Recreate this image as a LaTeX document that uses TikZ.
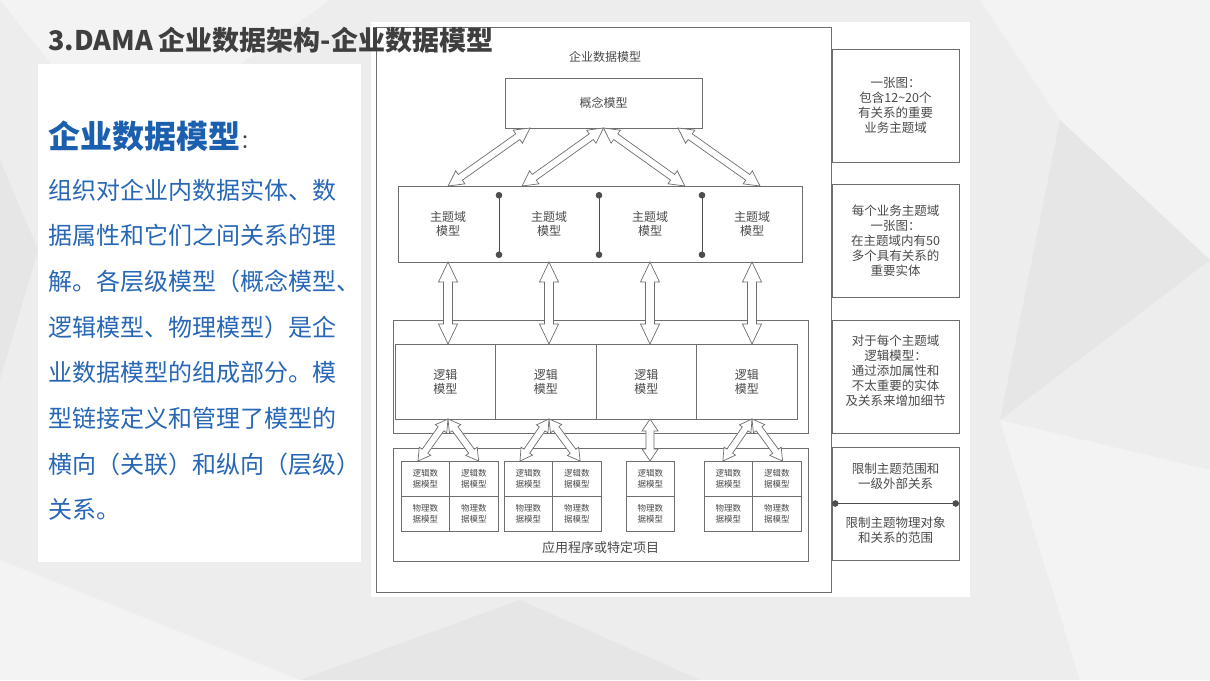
\documentclass[tikz,border=0pt]{standalone}
\usepackage{fontspec}
\setmainfont{Noto Sans CJK SC}
\usepackage{xcolor}
\usetikzlibrary{arrows.meta,positioning,calc}
\definecolor{slideBg}{HTML}{EDEDED}
\definecolor{polyLight}{HTML}{F3F3F3}
\definecolor{polyDark}{HTML}{E6E6E6}
\definecolor{titleGray}{HTML}{3F3F3F}
\definecolor{headBlue}{HTML}{1B5FAF}
\definecolor{bodyBlue}{HTML}{2767B6}
\definecolor{lineGray}{HTML}{6E6E6E}
\definecolor{inkGray}{HTML}{4A4A4A}
\tikzset{
  frame/.style={draw=lineGray, line width=0.8pt, fill=white, inner sep=0pt, outer sep=0pt},
  lbl/.style={text=inkGray, align=center, inner sep=0pt, font=\fontsize{12}{14}\selectfont},
  cellbox/.style={frame, lbl, minimum width=48.5, minimum height=35, anchor=north west, font=\fontsize{8.5}{11}\selectfont},
  notebox/.style={frame, lbl, minimum width=127, minimum height=113, anchor=north west, font=\fontsize{12.5}{15}\selectfont},
  dotline/.style={draw=lineGray!70!black, line width=0.8pt, {Circle[length=6.5pt]}-{Circle[length=6.5pt]}},
  dblarrow/.style={draw=lineGray, line width=0.7pt, fill=white, line join=miter},
  bodytxt/.style={text=bodyBlue, anchor=base west, inner sep=0pt, font=\fontsize{24}{24}\selectfont},
}
% hollow double-headed arrow: from, to, head length, head half width, shaft half width
\newcommand{\dblarr}[5]{%
  \draw[dblarrow] (#1)
    -- ($(#1)!#3!(#2)!#4!90:(#2)$) -- ($(#1)!#3!(#2)!#5!90:(#2)$)
    -- ($(#2)!#3!(#1)!#5!-90:(#1)$) -- ($(#2)!#3!(#1)!#4!-90:(#1)$)
    -- (#2)
    -- ($(#2)!#3!(#1)!#4!90:(#1)$) -- ($(#2)!#3!(#1)!#5!90:(#1)$)
    -- ($(#1)!#3!(#2)!#5!-90:(#2)$) -- ($(#1)!#3!(#2)!#4!-90:(#2)$)
    -- cycle;}

\begin{document}
\begin{tikzpicture}[x=1pt, y=-1pt]
% ---- slide background ----
\fill[slideBg] (0,0) rectangle (1210,680);
\fill[polyLight] (0,0) -- (330,0) -- (120,150) -- cycle;
\fill[polyLight] (980,0) -- (1210,0) -- (1210,260) -- (1060,120) -- cycle;
\fill[polyDark] (1210,260) -- (1060,120) -- (1000,420) -- cycle;
\fill[polyLight] (0,560) -- (300,680) -- (0,680) -- cycle;
\fill[polyDark] (300,680) -- (520,600) -- (700,680) -- cycle;
\fill[polyLight] (1000,420) -- (1210,470) -- (1210,680) -- (1080,680) -- cycle;
\fill[polyDark] (0,160) -- (38,250) -- (0,380) -- cycle;
\useasboundingbox (0,0) rectangle (1210,680);

% ---- left text panel ----
\fill[white] (38,64) rectangle (361,562);
\node[anchor=base west, inner sep=0pt] (head) at (48,148)
  {\textcolor{headBlue}{\fontsize{32}{32}\selectfont\bfseries 企业数据模型}\textcolor{titleGray}{\fontsize{20}{20}\selectfont ：}};
\foreach \t [count=\i from 0] in {组织对企业内数据实体、数, 据属性和它们之间关系的理,
    解。各层级模型（概念模型、, 逻辑模型、物理模型）是企, 业数据模型的组成部分。模,
    型链接定义和管理了模型的, 横向（关联）和纵向（层级）, 关系。}
  \node[bodytxt] (ln\i) at (48,199+45.7*\i) {\t};

% ---- diagram picture ----
\fill[white] (371,22) rectangle (970,597);
\node[frame, fill=none, minimum width=455, minimum height=565, anchor=north west] (outer) at (376,27) {};
\node[lbl] (dtitle) at (605,57) {企业数据模型};
\node[frame, lbl, minimum width=197, minimum height=50, anchor=north west] (concept) at (505,78) {概念模型};

% subject area models
\node[frame, minimum width=404, minimum height=76, anchor=north west] (subj) at (398,186) {};
\foreach \i/\x in {1/448, 2/549, 3/650, 4/752}
  \node[lbl] (s\i) at (\x,224) {主题域\\模型};
\foreach \x in {499, 599, 702}
  \draw[dotline] (\x,192) -- (\x,258);

% logical models
\node[frame, minimum width=415, minimum height=113, anchor=north west] (lgouter) at (393,320) {};
\node[frame, lbl, minimum width=100.5, minimum height=75, anchor=north west] (lg1) at (395,344) {逻辑\\模型};
\foreach \i [remember=\i as \j (initially 1)] in {2,3,4}
  \node[frame, lbl, minimum width=100.5, minimum height=75, right=0pt of lg\j] (lg\i) {逻辑\\模型};

% application / project data models
\node[frame, minimum width=415, minimum height=113, anchor=north west] (app) at (393,448) {};
\node[lbl, font=\fontsize{13}{14}\selectfont] (applbl) at ($(app.south)+(0,-13)$) {应用程序或特定项目};
\foreach \g/\x/\n in {1/401/2, 2/504/2, 3/626/1, 4/704/2}
  \foreach \c in {1,...,\n} {
    \node[cellbox] (lt\g\c) at (\x+48.5*\c-48.5,461) {逻辑数\\据模型};
    \node[cellbox] (pt\g\c) at (\x+48.5*\c-48.5,496) {物理数\\据模型};
  }

% ---- arrows ----
\coordinate (cb1) at ($(concept.south west)!0.127!(concept.south east)$);
\coordinate (cb2) at (concept.south);
\coordinate (cb4) at ($(concept.south west)!0.878!(concept.south east)$);
\foreach \i/\f in {1/0.124, 2/0.307, 3/0.71, 4/0.896}
  \coordinate (st\i) at ($(subj.north west)!\f!(subj.north east)$);
\dblarr{cb1}{st1}{15pt}{8pt}{3.5pt}
\dblarr{cb2}{st2}{15pt}{8pt}{3.5pt}
\dblarr{cb2}{st3}{15pt}{8pt}{3.5pt}
\dblarr{cb4}{st4}{15pt}{8pt}{3.5pt}
\foreach \i in {1,...,4}
  \dblarr{s\i |- subj.south}{s\i |- lg\i.north}{20pt}{9.5pt}{4.5pt}
\foreach \i in {1,...,4}
  \coordinate (j\i) at (s\i |- lg1.south);
\foreach \g/\a/\b in {1/0.35/0.6, 2/0.33/0.57, 4/0.39/0.62} {
  \coordinate (bl\g) at ($(lt\g1.north west)!\a!(lt\g1.north east)$);
  \coordinate (br\g) at ($(lt\g2.north west)!\b!(lt\g2.north east)$);
  \dblarr{j\g}{bl\g}{12pt}{7pt}{3.5pt}
  \dblarr{j\g}{br\g}{12pt}{7pt}{3.5pt}
}
\dblarr{j3}{j3 |- lt31.north}{12pt}{8pt}{4pt}

% ---- right notes ----
\node[notebox] (r1) at (832,49) {一张图：\\包含12\textasciitilde20个\\有关系的重要\\业务主题域};
\node[notebox] (r2) at (832,184) {每个业务主题域\\一张图：\\在主题域内有50\\多个具有关系的\\重要实体};
\node[notebox] (r3) at (832,320) {};
\node[lbl, font=\fontsize{12.5}{15}\selectfont] (r3t) at ($(r3)+(0,-6)$) {对于每个主题域\\逻辑模型：\\通过添加属性和\\不太重要的实体\\及关系来增加细节};
\node[notebox] (r4) at (832,447) {};
\draw[dotline] (r4.west) -- (r4.east);
\node[lbl, font=\fontsize{12.5}{15}\selectfont] (r4a) at ($(r4.north)+(0,29)$) {限制主题范围和\\一级外部关系};
\node[lbl, font=\fontsize{12.5}{15}\selectfont] (r4b) at ($(r4.south)+(0,-30)$) {限制主题物理对象\\和关系的范围};

% ---- slide title ----
\node[anchor=base west, inner sep=0pt, text=titleGray, font=\fontsize{27}{27}\selectfont\bfseries] (title) at (48,50) {3.DAMA 企业数据架构-企业数据模型};
\end{tikzpicture}
\end{document}
